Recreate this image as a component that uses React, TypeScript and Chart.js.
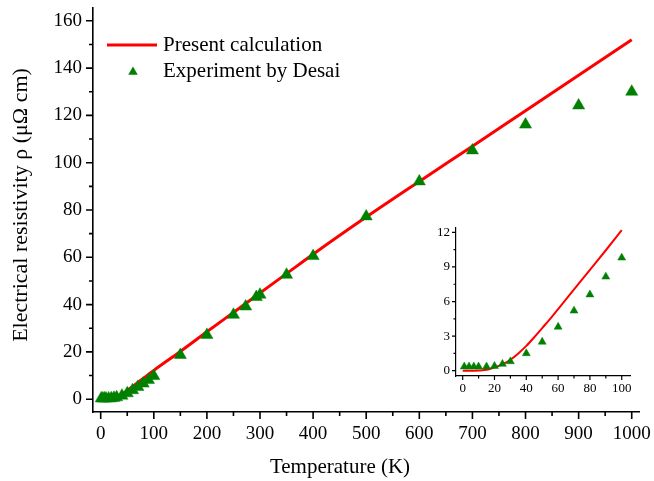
import React, { useEffect, useRef } from 'react';
import { Chart, registerables } from 'chart.js';

Chart.register(...registerables);

// Present calculation (line)
const CALC_T = [0, 5, 10, 15, 20, 25, 30, 35, 40, 45, 50, 55, 60, 70, 80, 90, 100, 150, 200, 250, 300, 350, 400, 500, 600, 700, 800, 900, 1000];
const CALC_RHO = [0, 0, 0.02, 0.08, 0.3, 0.55, 0.95, 1.5, 2.15, 2.9, 3.7, 4.5, 5.35, 7.05, 8.75, 10.45, 12.2, 20.2, 28.5, 36.7, 44.9, 53.1, 61.3, 77.0, 92.1, 107.0, 122.0, 137.0, 152.0];

// Experiment by Desai (triangles)
const EXP_T = [1, 4, 7, 10, 15, 20, 25, 30, 40, 50, 60, 70, 80, 90, 100, 150, 200, 250, 273, 293, 300, 350, 400, 500, 600, 700, 800, 900, 1000];
const EXP_RHO = [0.35, 0.35, 0.35, 0.35, 0.35, 0.4, 0.58, 0.8, 1.5, 2.5, 3.8, 5.2, 6.6, 8.15, 9.8, 18.7, 27.2, 35.7, 39.2, 43.2, 44.2, 52.6, 60.5, 77.3, 92.1, 105.2, 116.1, 124.2, 130.0];

// Tick values
const MAIN_X_TICKS = [0, 100, 200, 300, 400, 500, 600, 700, 800, 900, 1000];
const MAIN_X_MINOR = [50, 150, 250, 350, 450, 550, 650, 750, 850, 950];
const MAIN_Y_TICKS = [0, 20, 40, 60, 80, 100, 120, 140, 160];
const MAIN_Y_MINOR = [10, 30, 50, 70, 90, 110, 130, 150];
const INSET_X_TICKS = [0, 20, 40, 60, 80, 100];
const INSET_X_MINOR = [10, 30, 50, 70, 90];
const INSET_Y_TICKS = [0, 3, 6, 9, 12];
const INSET_Y_MINOR = [1.5, 4.5, 7.5, 10.5];

const LEGEND_LABELS = ['Present calculation', 'Experiment by Desai'];
const X_TITLE = 'Temperature (K)';
const Y_TITLE = 'Electrical resistivity ρ (μΩ cm)';

const RED = '#ff0000';
const GREEN = '#008000';
const FONT = "'Liberation Serif', 'Times New Roman', serif";

const pts = (xs: number[], ys: number[], maxX = Infinity) =>
  xs.map((x, i) => ({ x, y: ys[i] })).filter((p) => p.x <= maxX);

function drawTriangle(ctx: CanvasRenderingContext2D, x: number, y: number, r: number) {
  let rad = 0;
  ctx.beginPath();
  ctx.moveTo(x + Math.sin(rad) * r, y - Math.cos(rad) * r);
  rad += (2 * Math.PI) / 3;
  ctx.lineTo(x + Math.sin(rad) * r, y - Math.cos(rad) * r);
  rad += (2 * Math.PI) / 3;
  ctx.lineTo(x + Math.sin(rad) * r, y - Math.cos(rad) * r);
  ctx.closePath();
  ctx.fill();
}

const tickMarks = {
  id: 'tickMarks',
  afterDraw(chart: any, _a: any, o: any) {
    const { ctx, chartArea: ca, scales } = chart;
    ctx.save();
    ctx.strokeStyle = '#000';
    ctx.lineWidth = o.lw;
    ctx.beginPath();
    const xs = [
      ...o.xMajor.map((v: number) => [v, o.major]),
      ...o.xMinor.map((v: number) => [v, o.minor]),
    ];
    for (const [v, len] of xs) {
      const p = scales.x.getPixelForValue(v);
      ctx.moveTo(p, ca.bottom);
      ctx.lineTo(p, ca.bottom + len);
    }
    const ys = [
      ...o.yMajor.map((v: number) => [v, o.major]),
      ...o.yMinor.map((v: number) => [v, o.minor]),
    ];
    for (const [v, len] of ys) {
      const p = scales.y.getPixelForValue(v);
      ctx.moveTo(ca.left, p);
      ctx.lineTo(ca.left - len, p);
    }
    ctx.stroke();
    ctx.restore();
  },
};

const decorations = {
  id: 'decorations',
  afterDraw(chart: any) {
    const { ctx, chartArea: ca } = chart;
    ctx.save();
    // legend
    const lx = ca.left + 14;
    const ly1 = ca.top + 37;
    const ly2 = ca.top + 63;
    ctx.strokeStyle = RED;
    ctx.lineWidth = 3;
    ctx.beginPath();
    ctx.moveTo(lx, ly1);
    ctx.lineTo(lx + 50, ly1);
    ctx.stroke();
    ctx.fillStyle = GREEN;
    drawTriangle(ctx, lx + 26, ly2 + 1, 5.5);
    ctx.fillStyle = '#000';
    ctx.font = `21px ${FONT}`;
    ctx.textAlign = 'left';
    ctx.textBaseline = 'middle';
    ctx.fillText(LEGEND_LABELS[0], lx + 56, ly1);
    ctx.fillText(LEGEND_LABELS[1], lx + 56, ly2);
    // axis titles
    ctx.font = `21px ${FONT}`;
    ctx.textAlign = 'center';
    ctx.fillText(X_TITLE, 340, 467);
    ctx.font = `22px ${FONT}`;
    ctx.translate(21, 205);
    ctx.rotate(-Math.PI / 2);
    ctx.fillText(Y_TITLE, 0, 0);
    ctx.restore();
  },
};

const noPadX = (h: number) => (s: any) => {
  s.height = h;
  s.paddingLeft = 0;
  s.paddingRight = 0;
};
const noPadY = (w: number) => (s: any) => {
  s.width = w;
  s.paddingTop = 0;
  s.paddingBottom = 0;
};

export default function App() {
  const mainRef = useRef<HTMLCanvasElement>(null);
  const insetRef = useRef<HTMLCanvasElement>(null);

  useEffect(() => {
    document.body.style.margin = '0';
    const mainChart = new Chart(mainRef.current!, {
      type: 'scatter',
      data: {
        datasets: [
          {
            label: LEGEND_LABELS[1],
            data: pts(EXP_T, EXP_RHO),
            pointStyle: 'triangle',
            pointRadius: 7,
            backgroundColor: GREEN,
            borderColor: GREEN,
            borderWidth: 0.5,
            order: 0,
          },
          {
            label: LEGEND_LABELS[0],
            data: pts(CALC_T, CALC_RHO),
            showLine: true,
            pointRadius: 0,
            borderColor: RED,
            borderWidth: 3,
            cubicInterpolationMode: 'monotone',
            order: 1,
          } as any,
        ],
      },
      options: {
        animation: false,
        responsive: false,
        layout: { padding: { left: 0, right: 15, top: 8, bottom: 0 } },
        plugins: {
          legend: { display: false },
          tooltip: { enabled: false },
          tickMarks: {
            lw: 1.6, major: 7, minor: 4,
            xMajor: MAIN_X_TICKS, xMinor: MAIN_X_MINOR,
            yMajor: MAIN_Y_TICKS, yMinor: MAIN_Y_MINOR,
          },
        } as any,
        scales: {
          x: {
            type: 'linear',
            min: -14.5,
            max: 1013.7,
            afterBuildTicks: (s: any) => { s.ticks = MAIN_X_TICKS.map((v) => ({ value: v })); },
            afterFit: noPadX(69),
            grid: { display: false, drawTicks: false },
            border: { display: true, color: '#000', width: 1.6 },
            ticks: { color: '#000', font: { family: FONT, size: 19 }, padding: 11, maxRotation: 0, autoSkip: false, callback: (v: any) => String(v) },
          },
          y: {
            type: 'linear',
            min: -5.4,
            max: 165.4,
            afterBuildTicks: (s: any) => { s.ticks = MAIN_Y_TICKS.map((v) => ({ value: v })); },
            afterFit: noPadY(93),
            grid: { display: false, drawTicks: false },
            border: { display: true, color: '#000', width: 1.6 },
            ticks: { color: '#000', font: { family: FONT, size: 19 }, padding: 11, autoSkip: false, callback: (v: any) => String(v) },
          },
        },
      },
      plugins: [tickMarks, decorations],
    });

    const insetChart = new Chart(insetRef.current!, {
      type: 'scatter',
      data: {
        datasets: [
          {
            label: LEGEND_LABELS[1],
            data: pts(EXP_T, EXP_RHO, 100),
            pointStyle: 'triangle',
            pointRadius: 4.6,
            backgroundColor: GREEN,
            borderColor: GREEN,
            borderWidth: 0.5,
            order: 0,
          },
          {
            label: LEGEND_LABELS[0],
            data: pts(CALC_T, CALC_RHO, 100),
            showLine: true,
            pointRadius: 0,
            borderColor: RED,
            borderWidth: 2,
            cubicInterpolationMode: 'monotone',
            order: 1,
          } as any,
        ],
      },
      options: {
        animation: false,
        responsive: false,
        layout: { padding: { left: 0, right: 15, top: 8, bottom: 0 } },
        plugins: {
          legend: { display: false },
          tooltip: { enabled: false },
          tickMarks: {
            lw: 1.2, major: 4, minor: 2.5,
            xMajor: INSET_X_TICKS, xMinor: INSET_X_MINOR,
            yMajor: INSET_Y_TICKS, yMinor: INSET_Y_MINOR,
          },
        } as any,
        scales: {
          x: {
            type: 'linear',
            min: -4.2,
            max: 105.2,
            afterBuildTicks: (s: any) => { s.ticks = INSET_X_TICKS.map((v) => ({ value: v })); },
            afterFit: noPadX(24),
            grid: { display: false, drawTicks: false },
            border: { display: true, color: '#000', width: 1.2 },
            ticks: { color: '#000', font: { family: FONT, size: 13 }, padding: 5, maxRotation: 0, autoSkip: false, callback: (v: any) => String(v) },
          },
          y: {
            type: 'linear',
            min: -0.46,
            max: 12.38,
            afterBuildTicks: (s: any) => { s.ticks = INSET_Y_TICKS.map((v) => ({ value: v })); },
            afterFit: noPadY(36),
            grid: { display: false, drawTicks: false },
            border: { display: true, color: '#000', width: 1.2 },
            ticks: { color: '#000', font: { family: FONT, size: 13 }, padding: 6, autoSkip: false, callback: (v: any) => String(v) },
          },
        },
      },
      plugins: [tickMarks],
    });

    return () => {
      mainChart.destroy();
      insetChart.destroy();
    };
  }, []);

  return (
    <div style={{ position: 'relative', width: 654, height: 481, background: '#fff' }}>
      <canvas ref={mainRef} width={654} height={481} style={{ position: 'absolute', left: 0, top: 0 }} />
      <canvas ref={insetRef} width={225} height={180} style={{ position: 'absolute', left: 420, top: 220 }} />
    </div>
  );
}
